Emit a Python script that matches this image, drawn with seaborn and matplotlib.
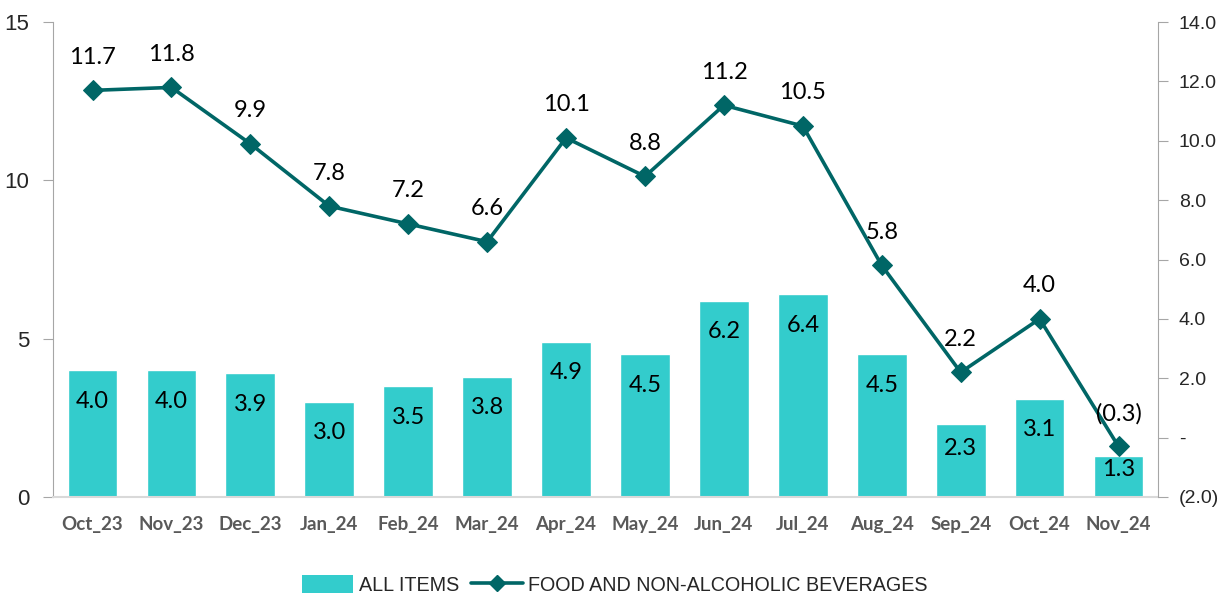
import matplotlib
matplotlib.use("Agg")
import matplotlib.pyplot as plt
import seaborn as sns
import pandas as pd
import numpy as np
from matplotlib import font_manager
from matplotlib.lines import Line2D
from matplotlib.patches import Patch

months = ["Oct_23", "Nov_23", "Dec_23", "Jan_24", "Feb_24", "Mar_24", "Apr_24",
          "May_24", "Jun_24", "Jul_24", "Aug_24", "Sep_24", "Oct_24", "Nov_24"]
all_items = [4.0, 4.0, 3.9, 3.0, 3.5, 3.8, 4.9, 4.5, 6.2, 6.4, 4.5, 2.3, 3.1, 1.3]
food = [11.7, 11.8, 9.9, 7.8, 7.2, 6.6, 10.1, 8.8, 11.2, 10.5, 5.8, 2.2, 4.0, -0.3]
left_ticks = [0, 5, 10, 15]
right_ticks = [-2, 0, 2, 4, 6, 8, 10, 12, 14]

sns.set_style("white")
names = {f.name for f in font_manager.fontManager.ttflist}
narrow = "Liberation Sans Narrow" if "Liberation Sans Narrow" in names else "Liberation Sans"
label_font = "Lato"

bar_color = "#33CCCC"
line_color = "#006666"

df = pd.DataFrame({"month": months, "all": all_items, "food": food})

fig = plt.figure(figsize=(12.25, 5.98), dpi=100)
ax = fig.add_axes([0.0433, 0.169, 0.902, 0.794])
sns.barplot(data=df, x="month", y="all", color=bar_color, width=0.63,
            saturation=1, ax=ax)
ax.set_ylim(0, 15)
ax.set_yticks(left_ticks)
ax.set_xlim(-0.5, len(months) - 0.5)
ax.set_xlabel("")
ax.set_ylabel("")
px_per_unit = fig.get_figheight() * fig.dpi * 0.794 / 15
for i, v in enumerate(all_items):
    off = min(31, 0.33 * v * px_per_unit)
    ax.annotate(f"{v:.1f}", (i, v), xytext=(0, -off), textcoords="offset pixels",
                ha="center", va="center", fontsize=17, family=label_font, color="black")

ax2 = ax.twinx()
sns.lineplot(x=np.arange(len(months)), y=food, ax=ax2, color=line_color, lw=2.6,
             marker="D", markersize=10, markeredgecolor=line_color)
ax2.set_ylim(-2, 14)
ax2.set_yticks(right_ticks)
def fmt(v):
    if v == 0:
        return "-"
    if v < 0:
        return f"({abs(v):.1f})"
    return f"{v:.1f}"
ax2.set_yticklabels([fmt(v) for v in right_ticks])
for i, v in enumerate(food):
    ax2.annotate(fmt(v), (i, v), xytext=(0, 33), textcoords="offset pixels",
                 ha="center", va="center", fontsize=17, family=label_font, color="black")

for a in (ax, ax2):
    for s in a.spines.values():
        s.set_visible(False)
ax.spines["left"].set_visible(True)
ax.spines["left"].set_color("#A6A6A6")
ax.spines["bottom"].set_visible(True)
ax.spines["bottom"].set_color("#D9D9D9")
ax.spines["bottom"].set_linewidth(1.5)
ax2.spines["right"].set_visible(True)
ax2.spines["right"].set_color("#A6A6A6")

ax.tick_params(axis="y", length=7, color="#A6A6A6", direction="out", left=True, pad=10)
ax2.tick_params(axis="y", length=7, color="#A6A6A6", direction="out", right=True, pad=8)
ax.tick_params(axis="x", length=0, pad=14)
for t in ax.get_yticklabels():
    t.set_family(narrow)
    t.set_fontsize(16)
for t in ax2.get_yticklabels():
    t.set_family(narrow)
    t.set_fontsize(14)
for t in ax.get_xticklabels():
    t.set_family(label_font)
    t.set_fontweight("bold")
    t.set_fontsize(13.5)
    t.set_color("#595959")

handles = [Patch(facecolor=bar_color, edgecolor="none"),
           Line2D([0], [0], color=line_color, lw=2.6, marker="D", markersize=8)]
fig.legend(handles, ["ALL ITEMS", "FOOD AND NON-ALCOHOLIC BEVERAGES"],
           loc="center", bbox_to_anchor=(0.502, 0.022), ncol=2, frameon=False,
           prop={"family": narrow, "size": 14.2}, handlelength=2.6, handleheight=1.0,
           columnspacing=0.6, handletextpad=0.3)

fig.savefig("out.png", dpi=100)
